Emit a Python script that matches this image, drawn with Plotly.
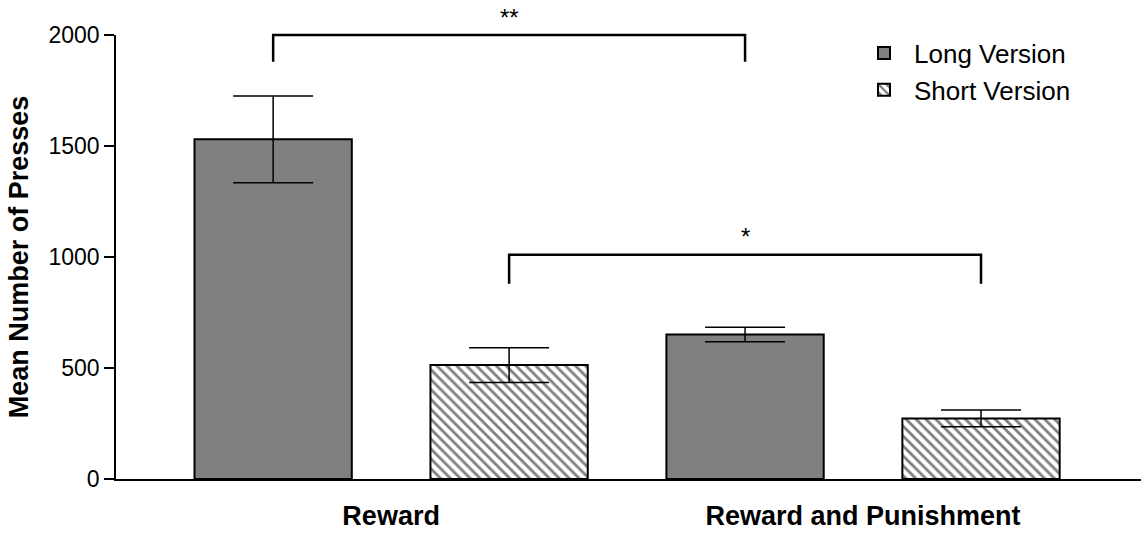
import plotly.graph_objects as go

# ---- data ----
categories = ["Reward", "Reward and Punishment"]
series_names = ["Long Version", "Short Version"]
long_values = [1530, 651]
long_errors = [195, 33]
short_values = [513, 273]
short_errors = [78, 38]
y_ticks = [0, 500, 1000, 1500, 2000]
# significance brackets: label, (category index, series index) start / end, bracket level, leg bottom
sig_labels = ["**", "*"]
sig_start = [(0, 0), (0, 1)]
sig_end = [(1, 0), (1, 1)]
sig_level = [2000, 1010]
sig_leg = [1880, 880]

Y_MAX = 2000
FONT = "Liberation Sans, Arial, Helvetica, sans-serif"

fig = go.Figure()
fig.add_trace(go.Bar(
    x=categories, y=long_values, name=series_names[0],
    marker=dict(color="#808080", line=dict(color="black", width=2)),
    error_y=dict(type="data", array=long_errors, visible=True,
                 color="black", thickness=1.5, width=40),
))
fig.add_trace(go.Bar(
    x=categories, y=short_values, name=series_names[1],
    marker=dict(color="white", line=dict(color="black", width=2),
                pattern=dict(shape="\\", fgcolor="black", bgcolor="white",
                             size=7, solidity=0.4)),
    error_y=dict(type="data", array=short_errors, visible=True,
                 color="black", thickness=1.5, width=40),
))

# bar offset within group (bargap=0, two series -> +-0.25)
offsets = [-0.25, 0.25]
for lab, s, e, lvl, leg in zip(sig_labels, sig_start, sig_end, sig_level, sig_leg):
    x0 = s[0] + offsets[s[1]]
    x1 = e[0] + offsets[e[1]]
    y0 = leg / Y_MAX
    y1 = lvl / Y_MAX
    fig.add_shape(type="path",
                  path=f"M {x0},{y0} L {x0},{y1} L {x1},{y1} L {x1},{y0}",
                  xref="x", yref="paper",
                  line=dict(color="black", width=2.5))
    fig.add_annotation(x=(x0 + x1) / 2, y=y1 + 0.075, xref="x", yref="paper",
                       text=lab, showarrow=False, yanchor="top",
                       font=dict(family=FONT, size=24, color="black"))

fig.update_layout(
    width=1143, height=533,
    margin=dict(l=116, r=2, t=35, b=48),
    paper_bgcolor="white", plot_bgcolor="white",
    barmode="group", bargap=0, bargroupgap=1/3,
    font=dict(family=FONT, color="black"),
    showlegend=True,
    legend=dict(x=0.72, y=1.012, xanchor="left", yanchor="top",
                font=dict(family=FONT, size=26, color="black"),
                bgcolor="rgba(0,0,0,0)", itemwidth=50, tracegroupgap=0),
)
fig.update_xaxes(
    range=[-0.583, 1.589], showline=True, linecolor="black", linewidth=1.5,
    ticks="", showgrid=False, zeroline=False,
    tickfont=dict(family=FONT, size=27, color="black", weight="bold"),
    ticklabelstandoff=12,
)
fig.update_yaxes(
    range=[0, Y_MAX], tickvals=y_ticks, showline=True, linecolor="black",
    linewidth=1.5, ticks="outside", ticklen=10, tickwidth=1.5, tickcolor="black",
    showgrid=False, zeroline=False,
    tickfont=dict(family=FONT, size=23, color="black"),
    title=dict(text="Mean Number of Presses",
               font=dict(family=FONT, size=27, color="black", weight="bold"),
               standoff=12),
)

fig.write_html("out.html", config={"displayModeBar": False},
               post_script="document.body.style.margin='0';document.body.style.overflow='hidden';")
